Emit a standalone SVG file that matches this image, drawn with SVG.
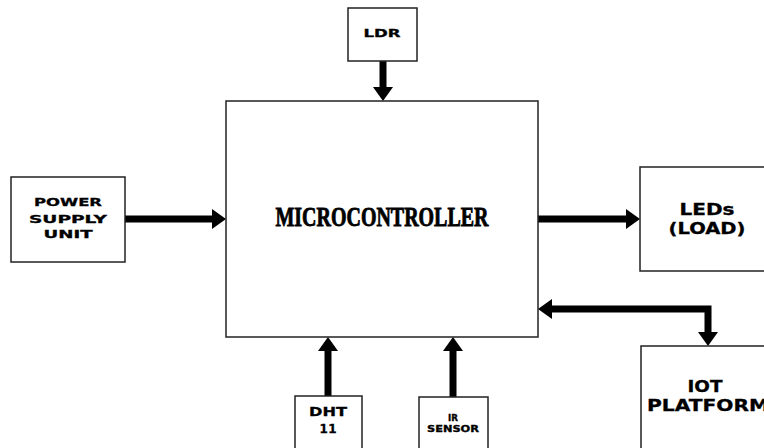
<svg xmlns="http://www.w3.org/2000/svg" width="764" height="448" viewBox="0 0 764 448">
<style>
.box{fill:#fff;stroke:#222;stroke-width:1.5}
.arr{fill:none;stroke:#000;stroke-width:7;stroke-linejoin:miter;marker-end:url(#ah)}
.t{font-family:"DejaVu Sans","Liberation Sans",sans-serif;font-weight:bold;text-anchor:middle;fill:#000;stroke:#000;stroke-width:0.3}
.mc{font-family:"Liberation Serif",serif;font-weight:bold;font-size:28px;text-anchor:middle;fill:#000;stroke:#000;stroke-width:0.9}
</style>
<defs>
<marker id="ah" markerUnits="userSpaceOnUse" markerWidth="14" markerHeight="20" refX="2" refY="10" orient="auto-start-reverse" viewBox="0 0 14 20">
<path d="M0,0 L14,10 L0,20 z" fill="#000"/>
</marker>
</defs>
<rect width="764" height="448" fill="#fff"/>
<g id="connectors">
<line class="arr" x1="383" y1="61" x2="383" y2="89"/>
<line class="arr" x1="125" y1="219" x2="214" y2="219"/>
<line class="arr" x1="538" y1="219" x2="628" y2="219"/>
<line class="arr" x1="328" y1="396" x2="328" y2="349"/>
<line class="arr" x1="453" y1="397" x2="453" y2="349"/>
<path class="arr" style="marker-start:url(#ah)" d="M550,309 H708 V334"/>
</g>
<g id="ldr">
<rect class="box" x="348" y="8" width="69" height="53"/>
<text class="t" x="382" y="37" font-size="10" textLength="37" lengthAdjust="spacingAndGlyphs">LDR</text>
</g>
<g id="microcontroller">
<rect class="box" x="226" y="101" width="312" height="236"/>
<text class="mc" x="382" y="226" textLength="213" lengthAdjust="spacingAndGlyphs">MICROCONTROLLER</text>
</g>
<g id="power">
<rect class="box" x="11" y="177" width="114" height="85"/>
<text class="t" x="68" y="206" font-size="11" textLength="68" lengthAdjust="spacingAndGlyphs">POWER</text>
<text class="t" x="68" y="223" font-size="11" textLength="78" lengthAdjust="spacingAndGlyphs">SUPPLY</text>
<text class="t" x="68" y="238" font-size="11" textLength="49" lengthAdjust="spacingAndGlyphs">UNIT</text>
</g>
<g id="leds">
<rect class="box" x="640" y="167" width="134" height="104"/>
<text class="t" x="707" y="215" font-size="15" textLength="55" lengthAdjust="spacingAndGlyphs">LEDs</text>
<text class="t" x="707" y="234" font-size="15" textLength="77" lengthAdjust="spacingAndGlyphs">(LOAD)</text>
</g>
<g id="iot">
<rect class="box" x="641" y="346" width="130" height="110"/>
<text class="t" x="705" y="392" font-size="16" textLength="35" lengthAdjust="spacingAndGlyphs">IOT</text>
<text class="t" x="647" y="411" font-size="16" style="text-anchor:start" textLength="122" lengthAdjust="spacingAndGlyphs">PLATFORM</text>
</g>
<g id="dht">
<rect class="box" x="295" y="396" width="67" height="60"/>
<text class="t" x="328" y="416" font-size="12" textLength="38" lengthAdjust="spacingAndGlyphs">DHT</text>
<text class="t" x="328" y="433" font-size="12" textLength="17" lengthAdjust="spacing">11</text>
</g>
<g id="ir">
<rect class="box" x="419" y="397" width="69" height="60"/>
<text class="t" x="453" y="421" font-size="8" textLength="10" lengthAdjust="spacingAndGlyphs">IR</text>
<text class="t" x="453" y="432" font-size="8" textLength="52" lengthAdjust="spacingAndGlyphs">SENSOR</text>
</g>
</svg>
